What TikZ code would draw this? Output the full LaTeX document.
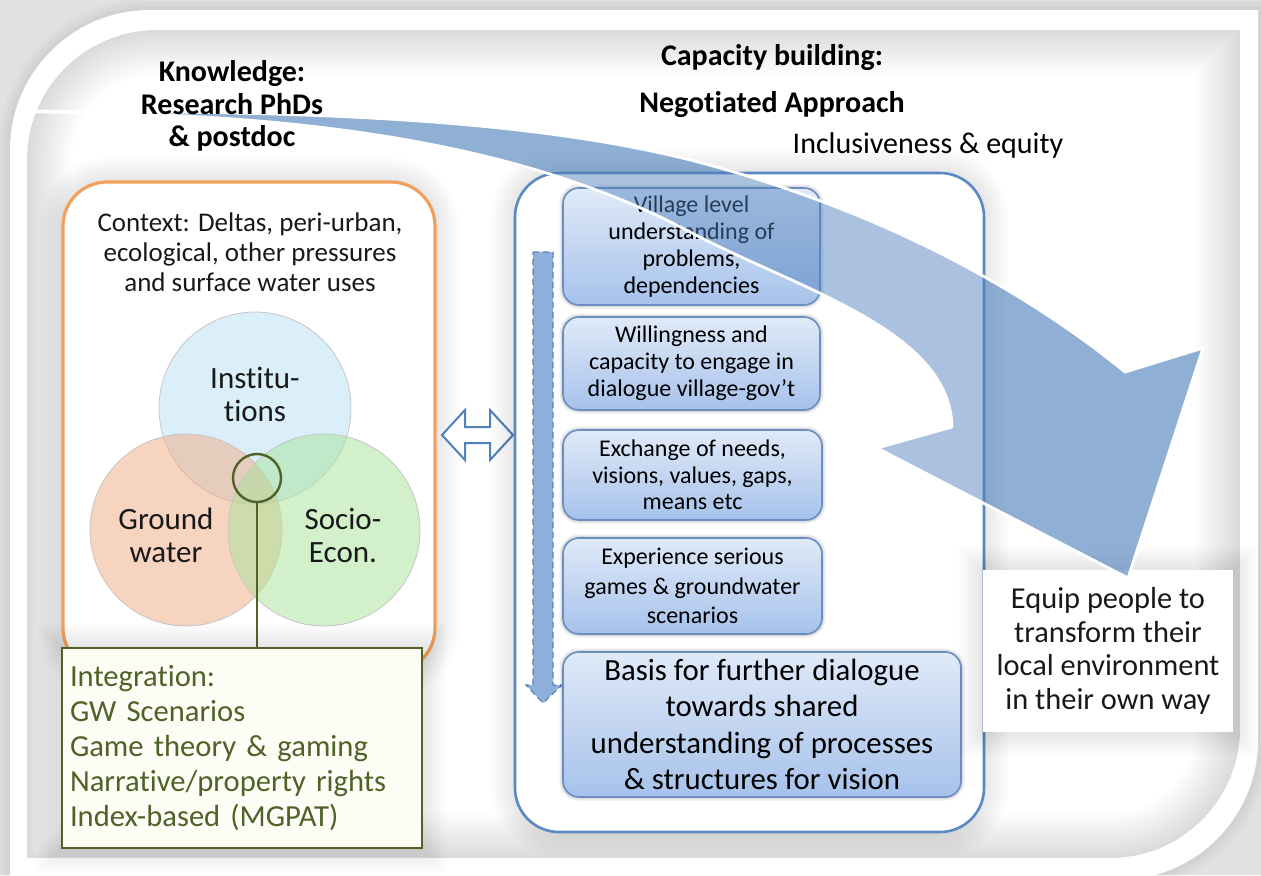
\documentclass[tikz,border=0pt]{standalone}
\usepackage{fontspec}
\setmainfont{Carlito}[Ligatures=NoCommon]
\usetikzlibrary{calc}

\definecolor{pagegray}{HTML}{E1E1E1}
\definecolor{accblue}{HTML}{4F81BD}
\definecolor{panelline}{HTML}{5B88C2}
\definecolor{stepline}{HTML}{6A8DC2}
\definecolor{steptop}{HTML}{E0EAF8}
\definecolor{stepbot}{HTML}{A6C2EB}
\definecolor{ctxline}{HTML}{F2A05C}
\definecolor{olivetext}{HTML}{4F6228}
\definecolor{cream}{HTML}{FDFDF6}
\definecolor{instfill}{HTML}{B9E1F7}
\definecolor{gwfill}{HTML}{F1AB81}
\definecolor{sefill}{HTML}{A7E599}
\definecolor{flowfill}{HTML}{8DAFD9}
\definecolor{flowline}{HTML}{5B82B8}

% outline of the white frame and of the shaded inner field (quarter circles as Bezier curves)
\newcommand{\frameouter}{(10,880) -- (10,150) .. controls (10,72.7) and (72.7,10) .. (150,10) -- (1258,10) -- (1258,740) .. controls (1258,817.3) and (1195.3,880) .. (1118,880) -- cycle}
\newcommand{\frameinner}{(27,858) -- (27,160) .. controls (27,88.2) and (85.2,30) .. (157,30) -- (1240,30) -- (1240,728) .. controls (1240,799.8) and (1181.8,858) .. (1110,858) -- cycle}
% the large curved arrow from knowledge to the people
\newcommand{\bigarrowpath}{(33,111) .. controls (250,112) and (520,112) .. (713,166) .. controls (850,204) and (1000,270) .. (1125,372) -- (1203,348) -- (1128,578) -- (877,448) -- (952,427) .. controls (950,330) and (800,290) .. (690,232) .. controls (500,130) and (250,113) .. (33,112) -- cycle}

\tikzset{
  glow/.style={
    preaction={draw=black,draw opacity=0.013,line width=24pt},
    preaction={draw=black,draw opacity=0.013,line width=21pt},
    preaction={draw=black,draw opacity=0.013,line width=18pt},
    preaction={draw=black,draw opacity=0.013,line width=15pt},
    preaction={draw=black,draw opacity=0.013,line width=12pt},
    preaction={draw=black,draw opacity=0.013,line width=9pt},
    preaction={draw=black,draw opacity=0.013,line width=6pt},
    preaction={draw=black,draw opacity=0.013,line width=3pt}},
  softshadow/.style={
    preaction={draw=black,draw opacity=0.07,line width=3.5pt},
    preaction={draw=black,draw opacity=0.07,line width=2pt}},
  headtxt/.style={font=\fontsize{15}{16.25}\selectfont\bfseries, inner sep=0pt},
  ctxbox/.style={rectangle, rounded corners=22pt, draw=ctxline, line width=1.6pt,
    fill=white, glow},
  ctxtext/.style={font=\fontsize{13.5}{15}\selectfont, align=center, text=black!90},
  venn/.style={circle, minimum size=96pt, inner sep=0pt, fill opacity=0.5,
    draw=gray!45, line width=0.4pt},
  vennlabel/.style={font=\fontsize{15.5}{16.5}\selectfont, align=center, text=black!90},
  integbox/.style={rectangle, draw=olivetext, line width=0.8pt, fill=cream, glow,
    inner xsep=4pt, text width=172pt, minimum height=100pt, align=left,
    font=\fontsize{15.3}{17.5}\selectfont, text=olivetext},
  panel/.style={rectangle, rounded corners=22pt, draw=panelline, line width=1.3pt,
    fill=white, glow, minimum width=234.5pt, minimum height=329.5pt},
  stepbox/.style={rectangle, rounded corners=8pt, draw=stepline, line width=0.8pt,
    top color=steptop, bottom color=stepbot, softshadow, align=center, inner sep=2pt,
    font=\fontsize{12}{13.5}\selectfont},
  equipbox/.style={rectangle, fill=white, glow, minimum width=125pt, minimum height=81pt,
    align=center, font=\fontsize{15.2}{16.75}\selectfont, text=black!90},
}

\begin{document}
\begin{tikzpicture}[x=0.5pt,y=-0.5pt]
\useasboundingbox (0,0) rectangle (1261,875);

% page and frame
\fill[pagegray] (0,0) rectangle (1261,875);
\foreach \gw in {4,8,12}{\draw[black,draw opacity=0.02,line width=\gw pt] \frameouter;}
\fill[white] \frameouter;
\begin{scope}
  \clip \frameinner;
  \fill[white] (0,0) rectangle (1261,875);
  \foreach \gw in {2.5,5,...,45}{\draw[black,draw opacity=0.009,line width=\gw pt] \frameinner;}
\end{scope}

% context panel with the three overlapping fields
\node[ctxbox, minimum width=186pt, minimum height=245pt] (ctx) at (249,427) {};
\node[ctxtext] (ctxlabel) at (250,252) {Context: Deltas, peri-urban,\\ecological, other pressures\\and surface water uses};
\node[venn, fill=instfill] (inst) at (255,408) {};
\node[venn, fill=gwfill] (gw) at (186,530) {};
\node[venn, fill=sefill] (se) at (324,530) {};
\node[vennlabel] (instlabel) at (255,394) {Institu-\\tions};
\node[vennlabel] (gwlabel) at (166,535) {Ground\\water};
\node[vennlabel] (selabel) at (343,535) {Socio-\\Econ.};
\node[circle, draw=olivetext, line width=1.2pt, minimum size=24pt, inner sep=0pt] (focus) at (257,478) {};

% integration list
\node[integbox] (integ) at (242,748) {Integration:\\GW Scenarios\\Game theory \& gaming\\Narrative/property rights\\Index-based (MGPAT)};
\draw[olivetext, line width=1pt] (focus.south) -- (focus.south |- integ.north);

% two-way arrow between the panels
\draw[accblue, line width=1pt, fill=white, line join=miter]
  (442,435) -- (465,410) -- (465,427) -- (490,427) -- (490,410) -- (513,435)
  -- (490,460) -- (490,443) -- (465,443) -- (465,460) -- cycle;

% negotiated approach panel
\node[panel] (panel) at (749.5,502.5) {};
\draw[flowline, densely dashed, line width=0.6pt, fill=flowfill]
  (533,252) -- (553,252) -- (553,685) -- (562,685) -- (543,703) -- (526,685) -- (533,685) -- cycle;

\node[stepbox, minimum width=128.5pt, minimum height=58.5pt] (s1) at (691.5,246.5)
  {Village level\\understanding of\\problems,\\dependencies};
\node[stepbox, minimum width=128.5pt, minimum height=46.5pt] (s2) at (691.5,363.5)
  {Willingness and\\capacity to engage in\\dialogue village-gov’t};
\node[stepbox, minimum width=129.5pt, minimum height=45pt, font=\fontsize{12}{13.25}\selectfont] (s3) at (692.5,475)
  {Exchange of needs,\\visions, values, gaps,\\means etc};
\node[stepbox, minimum width=129.5pt, minimum height=48pt, font=\fontsize{12}{14.75}\selectfont] (s4) at (692.5,586)
  {Experience serious\\games \& groundwater\\scenarios};
\node[stepbox, minimum width=199pt, minimum height=72.5pt, font=\fontsize{15.4}{18.2}\selectfont] (s5) at (762,724.5)
  {Basis for further dialogue\\towards shared\\understanding of processes\\\& structures for vision};

% outcome
\node[equipbox] (equip) at (1108,651) {Equip people to\\transform their\\local environment\\in their own way};

% curved arrow, lighter where it crosses the panel
\fill[accblue, fill opacity=0.48] \bigarrowpath;
\begin{scope}
  \clip (0,0) rectangle (515,875) (983,0) rectangle (1261,875) (515,0) rectangle (983,173);
  \fill[accblue, fill opacity=0.28] \bigarrowpath;
\end{scope}
\draw[white, line width=1.4pt, line join=round] \bigarrowpath;

% headings
\node[headtxt, align=center] (know) at (232,106) {Knowledge:\\Research PhDs\\\& postdoc};
\node[headtxt, anchor=base] (cap) at (772,65) {Capacity building:};
\node[headtxt, anchor=base] (nego) at (772,112) {Negotiated Approach};
\node[font=\fontsize{15}{16}\selectfont, anchor=base, inner sep=0pt] (incl) at (928,153) {Inclusiveness \& equity};
\end{tikzpicture}
\end{document}
